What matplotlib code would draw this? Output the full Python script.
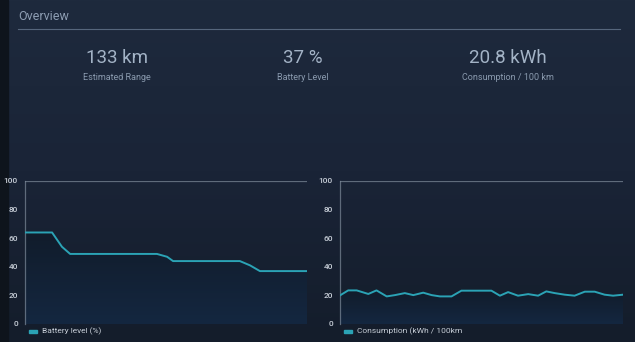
import numpy as np
import matplotlib.pyplot as plt
from matplotlib.patches import Rectangle
from matplotlib.colors import LinearSegmentedColormap

# summary tiles
stat_values = ["133 km", "37 %", "20.8 kWh"]
stat_labels = ["Estimated Range", "Battery Level", "Consumption / 100 km"]

# battery level over the trip (%)
battery_x = [0, 9.6, 13.1, 16.0, 46.8, 50.4, 52.5, 76.2, 79.8, 83.3, 100]
battery_y = [64, 64, 54, 49, 49, 47, 44, 44, 41, 37, 37]

# consumption over the trip (kWh / 100km)
cons_x = [0, 2.9, 5.9, 10.0, 12.9, 16.5, 19.4, 22.9, 25.9, 29.4, 32.4, 35.3,
          39.4, 42.9, 46.5, 50.0, 53.5, 56.5, 59.4, 62.9, 66.5, 70.0, 72.9,
          75.9, 79.4, 82.9, 86.5, 90.0, 93.5, 96.5, 100]
cons_y = [20, 23.5, 23.5, 21, 23.5, 19.3, 20.2, 21.6, 20.2, 21.9, 20.2, 19.3,
          19.3, 23.3, 23.3, 23.3, 23.3, 19.8, 22.3, 19.8, 20.9, 19.8, 22.8,
          21.6, 20.5, 19.8, 22.6, 22.6, 20.5, 19.8, 20.5]

yticks = [0, 20, 40, 60, 80, 100]

line_c = "#2ba3b5"
text_c = "#a3b3c6"
tick_c = "#c6cdd6"
spine_c = "#7d8a99"

W, H = 635, 342
fig = plt.figure(figsize=(W / 100, H / 100), dpi=100)

# background gradient
bg = fig.add_axes([0, 0, 1, 1])
grad = np.linspace(0, 1, 256).reshape(-1, 1)
bg_cmap = LinearSegmentedColormap.from_list("bg", ["#1e2a3d", "#1a2437", "#141d2b"])
bg.imshow(grad, aspect="auto", cmap=bg_cmap, extent=[0, W, H, 0], interpolation="bilinear")
bg.add_patch(Rectangle((0, 0), 8, H, color="#0e141c", zorder=2))
bg.set_xlim(0, W)
bg.set_ylim(H, 0)
bg.axis("off")

# header
bg.text(18, 16, "Overview", color="#8d9db2", fontsize=9, va="center", family="Roboto")
bg.plot([18, 620], [28.5, 28.5], color="#56667c", lw=0.8)

centers = [117, 303, 508]
for cx, v, lab in zip(centers, stat_values, stat_labels):
    bg.text(cx, 58, v, color=text_c, fontsize=13.5, ha="center", va="center", family="Roboto")
    bg.text(cx, 77, lab, color="#8a9aae", fontsize=6.5, ha="center", va="center", family="Roboto")


def px_axes(x0, x1, y0, y1):
    return fig.add_axes([x0 / W, 1 - y1 / H, (x1 - x0) / W, (y1 - y0) / H])


def draw_panel(ax, xs, ys, label):
    ax.set_facecolor("none")
    ax.set_xlim(0, 100)
    ax.set_ylim(0, 100)
    fill_grad = np.linspace(1, 0, 256).reshape(-1, 1)
    fill_cmap = LinearSegmentedColormap.from_list("fill", ["#111c2b", "#142740"])
    img = ax.imshow(fill_grad, aspect="auto", cmap=fill_cmap, extent=[0, 100, 0, max(ys)],
                    origin="lower", zorder=1, interpolation="bilinear")
    poly = ax.fill_between(xs, ys, 0, color="none")
    img.set_clip_path(poly.get_paths()[0], transform=ax.transData)
    ax.plot(xs, ys, color=line_c, lw=1.4, zorder=3)
    ax.axhline(100, color=spine_c, lw=0.9, alpha=0.7)
    for s in ["top", "right", "bottom"]:
        ax.spines[s].set_visible(False)
    ax.spines["left"].set_color(spine_c)
    ax.spines["left"].set_alpha(0.7)
    ax.spines["left"].set_linewidth(0.9)
    ax.set_xticks([])
    ax.set_yticks(yticks)
    ax.tick_params(axis="y", length=0, pad=5, labelsize=6, labelcolor=tick_c)
    for t in ax.get_yticklabels():
        t.set_family("Roboto")
        t.set_weight("medium")
    ax.add_patch(Rectangle((1.5, -6.2), 2.8, 2.2, color=line_c, clip_on=False,
                           transform=ax.transData))
    ax.text(6, -5.1, label, color=tick_c, fontsize=6, va="center", family="Roboto",
            clip_on=False)


ax1 = px_axes(25, 307, 181, 324)
draw_panel(ax1, battery_x, battery_y, "Battery level (%)")

ax2 = px_axes(340, 623, 181, 324)
draw_panel(ax2, cons_x, cons_y, "Consumption (kWh / 100km")

fig.savefig("out.png", dpi=100, facecolor="#172233")
